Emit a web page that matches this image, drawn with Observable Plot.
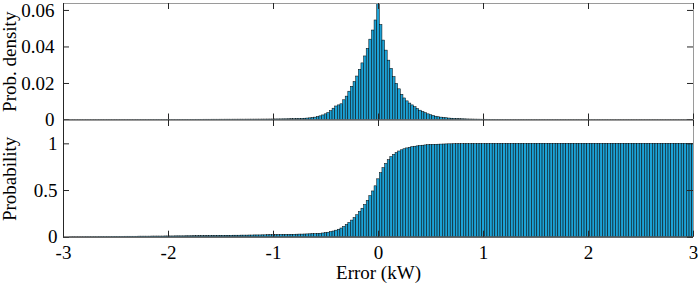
<!DOCTYPE html>
<html>
<head>
<meta charset="utf-8">
<script src="https://cdn.jsdelivr.net/npm/d3@7"></script>
<script src="https://cdn.jsdelivr.net/npm/@observablehq/plot@0.6"></script>
<style>
  body { margin: 0; background: #fff; }
  #chart { width: 699px; }
  #chart svg { display: block; }
</style>
</head>
<body>
<div id="chart"></div>
<script>
// ---------- data ----------
const binWidth = 0.025;              // kW
const binIndexFirst = -120;          // bin centre = index * binWidth
const binIndexLast = 120;

// probability per bin (top panel), bins from -3 to 3 kW
const density = [
  0.00003,0.00003,0.00003,0.00004,0.00004,0.00004,0.00004,0.00004,0.00005,0.00005,0.00005,0.00005,0.00005,0.00005,0.00006,0.00006,0.00006,0.00006,0.00006,0.00006,
  0.00007,0.00007,0.00007,0.00007,0.00008,0.00008,0.00008,0.00008,0.00008,0.00009,0.00009,0.00009,0.00009,0.0001,0.0001,0.0001,0.0001,0.0001,0.0001,0.0001,
  0.0001,0.0001,0.00011,0.00011,0.00011,0.00012,0.00012,0.00012,0.00013,0.00013,0.00013,0.00014,0.00014,0.00014,0.00015,0.00015,0.00015,0.00016,0.00016,0.00016,
  0.00017,0.00017,0.00018,0.00018,0.00018,0.00019,0.00019,0.0002,0.0002,0.0002,0.00021,0.00021,0.00022,0.00022,0.00023,0.00023,0.00024,0.00025,0.00026,0.00027,
  0.00028,0.0003,0.00031,0.00033,0.00035,0.00037,0.0004,0.00043,0.00046,0.0005,0.00055,0.0006,0.0007,0.0008,
  0.0009,0.0011,0.0013,0.0016,0.002,0.0025,0.0031,0.0038,0.0048,0.0062,0.0074,0.008,0.0086,
  0.0108,0.0128,0.0155,0.0182,0.0208,0.0238,0.0275,0.031,0.0348,0.039,0.044,0.049,0.0545,
  0.0638,
  0.052,0.0435,0.038,0.0325,0.028,0.0235,0.0198,0.0168,0.0138,0.0118,0.0102,0.009,0.008,0.007,0.006,0.0051,
  0.0044,0.0037,0.0031,0.0026,0.0022,0.0018,0.0015,0.0013,0.0011,0.00095,0.0008,0.0007,0.0006,0.0005,
  0.00045,0.0004,0.00035,0.0003,0.00027,0.00024,0.00022,0.0002,0.00018,0.00016,
  0.00015,0.00014,0.00013,0.00012,0.00011,0.0001,0.0001,0.00009,0.00009,0.00008,0.00008,0.00007,0.00007,0.00007,0.00006,0.00006,0.00006,0.00005,0.00005,0.00005,
  0.00005,0.00005,0.00005,0.00005,0.00005,0.00005,0.00005,0.00005,0.00005,0.00005,
  0.00004,0.00004,0.00004,0.00004,0.00004,0.00004,0.00004,0.00004,0.00004,0.00004,0.00004,0.00004,0.00004,0.00004,0.00004,0.00004,0.00004,0.00004,0.00004,0.00004,
  0.00003,0.00003,0.00003,0.00003,0.00003,0.00003,0.00003,0.00003,0.00003,0.00003,0.00003,0.00003,0.00003,0.00003,0.00003,0.00003,0.00003,0.00003,0.00003,0.00003,
  0.00003,0.00003,0.00003,0.00003,0.00003,0.00003,0.00003,0.00003,0.00003,0.00003
];

// cumulative probability per bin (bottom panel)
const cumulative = [
  0.000,0.000,0.000,0.001,0.001,0.001,0.001,0.001,0.002,0.002,0.002,0.002,0.002,0.002,0.003,0.003,0.003,0.003,0.003,0.004,
  0.004,0.004,0.004,0.004,0.005,0.005,0.005,0.005,0.005,0.006,0.006,0.006,0.006,0.006,0.007,0.007,0.007,0.007,0.007,0.008,
  0.008,0.008,0.008,0.009,0.009,0.009,0.009,0.010,0.010,0.010,0.011,0.011,0.011,0.012,0.012,0.012,0.013,0.013,0.013,0.014,
  0.014,0.014,0.015,0.015,0.015,0.016,0.016,0.016,0.017,0.017,0.017,0.018,0.018,0.019,0.019,0.019,0.020,0.020,0.021,0.021,
  0.022,0.023,0.023,0.024,0.024,0.025,0.025,0.026,0.026,0.027,0.028,0.028,0.029,0.030,
  0.031,0.032,0.033,0.035,0.037,0.040,0.044,0.048,0.054,0.061,0.070,0.080,0.093,
  0.11,0.13,0.153,0.178,0.205,0.235,0.27,0.305,0.345,0.39,0.44,0.49,0.545,
  0.62,
  0.685,0.74,0.785,0.825,0.857,0.882,0.902,0.918,0.931,0.942,0.951,0.958,0.964,0.969,0.973,0.977,
  0.98,0.983,0.985,0.987,0.989,0.99,0.991,0.992,0.993,0.994,0.995,0.995,0.996,0.996,
  0.996,0.997,0.997,0.997,0.997,0.998,0.998,0.998,0.998,0.998,
  0.998,0.998,0.999,0.999,0.999,0.999,0.999,0.999,0.999,0.999,0.999,0.999,0.999,0.999,0.999,0.999,0.999,0.999,0.999,0.999,
  1,1,1,1,1,1,1,1,1,1,1,1,1,1,1,1,1,1,1,1,
  1,1,1,1,1,1,1,1,1,1,1,1,1,1,1,1,1,1,1,1,
  1,1,1,1,1,1,1,1,1,1,1,1,1,1,1,1,1,1,1,1
];

const xTicks = [-3, -2, -1, 0, 1, 2, 3];
const densityTicks = [0, 0.02, 0.04, 0.06];
const probTicks = [0, 0.5, 1];
const xDomain = [-3, 3];
const densityDomain = [0, 0.0638];
const probDomain = [0, 1.25];

// ---------- build table ----------
const bins = d3.range(binIndexFirst, binIndexLast + 1).map((k, i) => ({
  x1: k * binWidth - binWidth / 2,
  x2: k * binWidth + binWidth / 2,
  density: density[i],
  cumulative: cumulative[i]
}));

// ---------- styling ----------
const W = 699, ML = 63, MR = 6;
const plotW = W - ML - MR;
const TICK = 6;
const barFill = "#1ca2d6";
const axisDark = "#262626";
const boxLight = "#9a9a9a";
const font = { fontFamily: "'Liberation Serif', 'Times New Roman', serif", fontSize: "19px", color: "#000", background: "#fff", overflow: "visible" };

function boxMarks(yDomain, yTicks, plotH) {
  return [
    Plot.ruleY([yDomain[1]], { stroke: boxLight, strokeWidth: 1 }),
    Plot.ruleX([xDomain[1]], { stroke: boxLight, strokeWidth: 1 }),
    Plot.ruleX([xDomain[0]], { stroke: axisDark, strokeWidth: 1 }),
    Plot.ruleY([yDomain[0]], { stroke: axisDark, strokeWidth: 1 }),
    Plot.ruleX(xTicks, { stroke: axisDark, strokeWidth: 1, insetTop: plotH - TICK }),
    Plot.ruleX(xTicks, { stroke: axisDark, strokeWidth: 1, insetBottom: plotH - TICK }),
    Plot.ruleY(yTicks, { stroke: axisDark, strokeWidth: 1, insetRight: plotW - TICK }),
    Plot.ruleY(yTicks, { stroke: axisDark, strokeWidth: 1, insetLeft: plotW - TICK })
  ];
}

// ---------- top panel ----------
const topH = 120, topMT = 3, topMB = 0.5;
const topPlot = Plot.plot({
  width: W, height: topH,
  marginLeft: ML, marginRight: MR, marginTop: topMT, marginBottom: topMB,
  style: font,
  x: { domain: xDomain, axis: null },
  y: { domain: densityDomain, axis: null },
  marks: [
    Plot.rectY(bins, { x1: "x1", x2: "x2", y: "density", fill: barFill, stroke: "#000", strokeWidth: 0.5, clip: true }),
    ...boxMarks(densityDomain, densityTicks, topH - topMT - topMB),
    Plot.axisY(densityTicks, {
      anchor: "left", tickSize: 0, tickPadding: 9,
      tickFormat: d => d === 0 ? "0" : d.toFixed(2),
      label: "Prob. density", labelAnchor: "center", labelOffset: 61, labelArrow: "none"
    })
  ]
});

// ---------- bottom panel ----------
const botH = 170, botMT = 0, botMB = 53.3;
const botPlot = Plot.plot({
  width: W, height: botH,
  marginLeft: ML, marginRight: MR, marginTop: botMT, marginBottom: botMB,
  style: font,
  x: { domain: xDomain },
  y: { domain: probDomain },
  marks: [
    Plot.rectY(bins, { x1: "x1", x2: "x2", y: "cumulative", fill: barFill, stroke: "#000", strokeWidth: 0.5, clip: true }),
    ...boxMarks(probDomain, probTicks, botH - botMT - botMB),
    Plot.axisY(probTicks, {
      anchor: "left", tickSize: 0, tickPadding: 6,
      tickFormat: d => String(d),
      label: "Probability", labelAnchor: "center", labelOffset: 61, labelArrow: "none"
    }),
    Plot.axisX(xTicks, {
      anchor: "bottom", tickSize: 0, tickPadding: 8,
      tickFormat: d => String(d),
      label: "Error (kW)", labelAnchor: "center", labelOffset: 42, labelArrow: "none"
    })
  ]
});

document.getElementById("chart").append(topPlot, botPlot);
</script>
</body>
</html>
